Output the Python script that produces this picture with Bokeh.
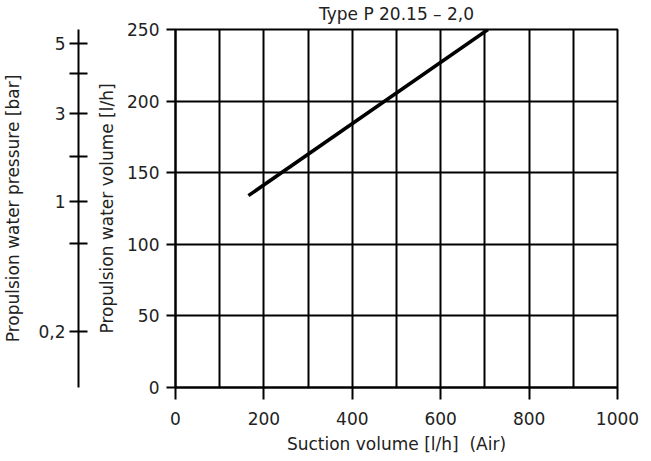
from bokeh.plotting import figure
from bokeh.models import Range1d, FixedTicker, LinearAxis
from bokeh.layouts import row
from bokeh.embed import file_html
from bokeh.resources import INLINE

# Performance line: suction volume (air) vs. propulsion water volume
suction_air = [165, 707]
water_volume = [134, 250]

x_ticks = [0, 200, 400, 600, 800, 1000]
x_grid = [0, 100, 200, 300, 400, 500, 600, 700, 800, 900, 1000]
y_ticks = [0, 50, 100, 150, 200, 250]

# Pressure scale, positioned against the water-volume scale [l/h]
pressure_pos = [240.5, 219, 191, 161, 130, 100.5, 39]
pressure_labels = ["5", "", "3", "", "1", "", "0,2"]

FONT = "DejaVu Sans"
TXT = "#222222"
W, H = 651, 461
LEFT_W = 88
TOP, BOTTOM = 28, 74
FS = "17px"

yr = Range1d(0, 250)


def style_axis(ax, tick_in=0, tick_out=9):
    ax.axis_line_color = "black"
    ax.axis_line_width = 2
    ax.major_tick_line_color = "black"
    ax.major_tick_line_width = 2
    ax.major_tick_in = tick_in
    ax.major_tick_out = tick_out
    ax.minor_tick_line_color = None
    ax.major_label_text_font = FONT
    ax.major_label_text_font_size = FS
    ax.major_label_text_color = TXT
    ax.axis_label_text_font = FONT
    ax.axis_label_text_font_size = FS
    ax.axis_label_text_font_style = "normal"
    ax.axis_label_text_color = TXT


# Narrow figure carrying only the pressure scale
left = figure(width=LEFT_W, height=H, x_range=Range1d(0, 1), y_range=yr,
              x_axis_type=None, y_axis_type=None,
              toolbar_location=None, output_backend="svg",
              min_border_left=77, min_border_right=0,
              min_border_top=TOP, min_border_bottom=BOTTOM)
left.outline_line_color = None

paxis = LinearAxis(ticker=FixedTicker(ticks=pressure_pos),
                   major_label_overrides={float(k): v for k, v in zip(pressure_pos, pressure_labels)},
                   axis_label="Propulsion water pressure [bar]")
style_axis(paxis, tick_in=9, tick_out=9)
paxis.major_label_standoff = 4
paxis.axis_label_standoff = 12
left.add_layout(paxis, "left")

# Main chart
p = figure(width=W - LEFT_W, height=H, x_range=Range1d(0, 1000), y_range=yr,
           toolbar_location=None, output_backend="svg",
           min_border_left=175 - LEFT_W, min_border_right=34,
           min_border_top=TOP, min_border_bottom=BOTTOM,
           title="Type P 20.15 – 2,0")
p.title.align = "center"
p.title.vertical_align = "top"
p.title.standoff = 7
p.title.text_font = FONT
p.title.text_font_size = FS
p.title.text_font_style = "normal"
p.title.text_color = TXT

p.outline_line_color = "black"
p.outline_line_width = 2

p.xaxis.ticker = FixedTicker(ticks=x_ticks)
p.yaxis.ticker = FixedTicker(ticks=y_ticks)
p.xgrid.ticker = FixedTicker(ticks=x_grid)
p.ygrid.ticker = FixedTicker(ticks=y_ticks)
for g in (p.xgrid, p.ygrid):
    g.grid_line_color = "black"
    g.grid_line_width = 2
    g.grid_line_alpha = 1

p.xaxis.axis_label = "Suction volume [l/h] \u00a0(Air)"
p.yaxis.axis_label = "Propulsion water volume [l/h]"
style_axis(p.xaxis[0], tick_out=12)
style_axis(p.yaxis[0], tick_out=9)
p.xaxis.major_label_standoff = 12
p.yaxis.major_label_standoff = 7
p.xaxis.axis_label_standoff = 6
p.yaxis.axis_label_standoff = 7

p.line(suction_air, water_volume, line_width=3.5, line_color="black")

layout = row(left, p)
open("out.html", "w").write(file_html(layout, INLINE))
